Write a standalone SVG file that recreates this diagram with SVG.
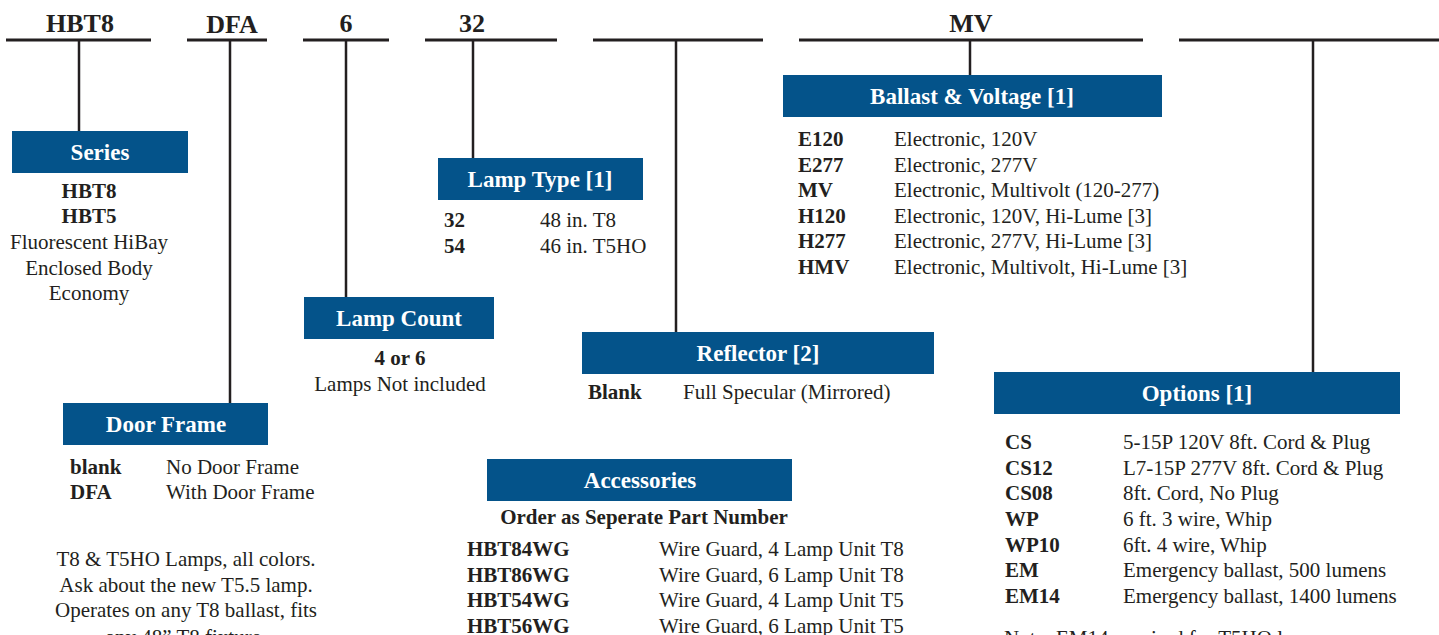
<svg xmlns="http://www.w3.org/2000/svg" width="1439" height="635" viewBox="0 0 1439 635">
<style>
.top{stroke:#231F20;stroke-width:3;fill:none}
.v{stroke:#231F20;stroke-width:2.5;fill:none}
.box{fill:#04538A}
.ttl{font-family:"Liberation Serif",serif;font-weight:bold;font-size:23px;fill:#ffffff;text-anchor:middle}
.hd{font-family:"Liberation Serif",serif;font-weight:bold;font-size:26px;fill:#231F20;text-anchor:middle}
.b{font-family:"Liberation Serif",serif;font-weight:bold;font-size:21px;fill:#231F20}
.r{font-family:"Liberation Serif",serif;font-size:21px;fill:#231F20}
.c{text-anchor:middle}
</style>
<rect width="1439" height="635" fill="#ffffff"/>
<g id="connectors">
<line class="top" x1="6" y1="40" x2="151" y2="40"/>
<line class="top" x1="187" y1="40" x2="267" y2="40"/>
<line class="top" x1="303" y1="40" x2="389" y2="40"/>
<line class="top" x1="425" y1="40" x2="557" y2="40"/>
<line class="top" x1="593" y1="40" x2="763" y2="40"/>
<line class="top" x1="799" y1="40" x2="1143" y2="40"/>
<line class="top" x1="1179" y1="40" x2="1439" y2="40"/>
<line class="v" x1="79" y1="40" x2="79" y2="131"/>
<line class="v" x1="230" y1="40" x2="230" y2="403"/>
<line class="v" x1="346" y1="40" x2="346" y2="297"/>
<line class="v" x1="473" y1="40" x2="473" y2="158"/>
<line class="v" x1="676" y1="40" x2="676" y2="332"/>
<line class="v" x1="970" y1="40" x2="970" y2="75"/>
<line class="v" x1="1313" y1="40" x2="1313" y2="372"/>
</g>
<g id="codes">
<text class="hd" x="80" y="32">HBT8</text>
<text class="hd" x="232" y="33">DFA</text>
<text class="hd" x="346" y="32">6</text>
<text class="hd" x="472" y="32">32</text>
<text class="hd" x="971" y="32">MV</text>
</g>
<g id="series">
<rect class="box" x="12" y="131" width="176" height="42"/>
<text class="ttl" x="100" y="160">Series</text>
<text class="b c" x="89" y="198">HBT8</text>
<text class="b c" x="89" y="223">HBT5</text>
<text class="r c" x="89" y="249">Fluorescent HiBay</text>
<text class="r c" x="89" y="275">Enclosed Body</text>
<text class="r c" x="89" y="300">Economy</text>
</g>
<g id="lamp-type">
<rect class="box" x="438" y="158" width="205" height="42"/>
<text class="ttl" x="540" y="187">Lamp Type [1]</text>
<text class="b" x="444" y="227">32</text>
<text class="r" x="540" y="227">48 in. T8</text>
<text class="b" x="444" y="253">54</text>
<text class="r" x="540" y="253">46 in. T5HO</text>
</g>
<g id="lamp-count">
<rect class="box" x="304" y="297" width="190" height="42"/>
<text class="ttl" x="399" y="326">Lamp Count</text>
<text class="b c" x="400" y="365">4 or 6</text>
<text class="r c" x="400" y="391">Lamps Not included</text>
</g>
<g id="door-frame">
<rect class="box" x="63" y="403" width="205" height="42"/>
<text class="ttl" x="166" y="432">Door Frame</text>
<text class="b" x="70" y="474">blank</text>
<text class="r" x="166" y="474">No Door Frame</text>
<text class="b" x="70" y="499">DFA</text>
<text class="r" x="166" y="499">With Door Frame</text>
</g>
<g id="lamp-notes">
<text class="r c" x="186" y="566">T8 &amp; T5HO Lamps, all colors.</text>
<text class="r c" x="186" y="592">Ask about the new T5.5 lamp.</text>
<text class="r c" x="186" y="617">Operates on any T8 ballast, fits</text>
<text class="r c" x="186" y="644">any 48” T8 fixture.</text>
</g>
<g id="reflector">
<rect class="box" x="582" y="332" width="352" height="42"/>
<text class="ttl" x="758" y="361">Reflector [2]</text>
<text class="b" x="588" y="399">Blank</text>
<text class="r" x="683" y="399">Full Specular (Mirrored)</text>
</g>
<g id="ballast">
<rect class="box" x="783" y="75" width="379" height="42"/>
<text class="ttl" x="972" y="104">Ballast &amp; Voltage [1]</text>
<text class="b" x="798" y="146">E120</text>
<text class="r" x="894" y="146">Electronic, 120V</text>
<text class="b" x="798" y="172">E277</text>
<text class="r" x="894" y="172">Electronic, 277V</text>
<text class="b" x="798" y="197">MV</text>
<text class="r" x="894" y="197">Electronic, Multivolt (120-277)</text>
<text class="b" x="798" y="223">H120</text>
<text class="r" x="894" y="223">Electronic, 120V, Hi-Lume [3]</text>
<text class="b" x="798" y="248">H277</text>
<text class="r" x="894" y="248">Electronic, 277V, Hi-Lume [3]</text>
<text class="b" x="798" y="274">HMV</text>
<text class="r" x="894" y="274">Electronic, Multivolt, Hi-Lume [3]</text>
</g>
<g id="options">
<rect class="box" x="994" y="372" width="406" height="42"/>
<text class="ttl" x="1197" y="401">Options [1]</text>
<text class="b" x="1005" y="449">CS</text>
<text class="r" x="1123" y="449">5-15P 120V 8ft. Cord &amp; Plug</text>
<text class="b" x="1005" y="475">CS12</text>
<text class="r" x="1123" y="475">L7-15P 277V 8ft. Cord &amp; Plug</text>
<text class="b" x="1005" y="500">CS08</text>
<text class="r" x="1123" y="500">8ft. Cord, No Plug</text>
<text class="b" x="1005" y="526">WP</text>
<text class="r" x="1123" y="526">6 ft. 3 wire, Whip</text>
<text class="b" x="1005" y="552">WP10</text>
<text class="r" x="1123" y="552">6ft. 4 wire, Whip</text>
<text class="b" x="1005" y="577">EM</text>
<text class="r" x="1123" y="577">Emergency ballast, 500 lumens</text>
<text class="b" x="1005" y="603">EM14</text>
<text class="r" x="1123" y="603">Emergency ballast, 1400 lumens</text>
<text class="r" x="1004" y="645">Note: EM14 required for T5HO lamps</text>
</g>
<g id="accessories">
<rect class="box" x="487" y="459" width="305" height="42"/>
<text class="ttl" x="640" y="488">Accessories</text>
<text class="b c" x="644" y="524">Order as Seperate Part Number</text>
<text class="b" x="467" y="556">HBT84WG</text>
<text class="r" x="659" y="556">Wire Guard, 4 Lamp Unit T8</text>
<text class="b" x="467" y="582">HBT86WG</text>
<text class="r" x="659" y="582">Wire Guard, 6 Lamp Unit T8</text>
<text class="b" x="467" y="607">HBT54WG</text>
<text class="r" x="659" y="607">Wire Guard, 4 Lamp Unit T5</text>
<text class="b" x="467" y="633">HBT56WG</text>
<text class="r" x="659" y="633">Wire Guard, 6 Lamp Unit T5</text>
</g>
</svg>
